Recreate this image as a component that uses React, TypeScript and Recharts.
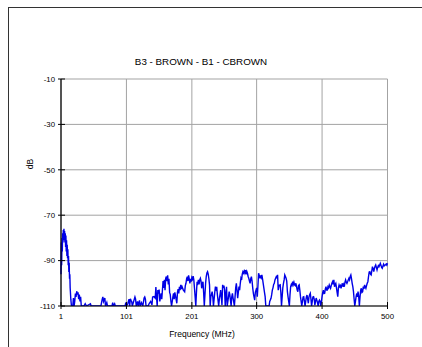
import React from 'react';
import { LineChart, Line, XAxis, YAxis, CartesianGrid } from 'recharts';

// ── Data ────────────────────────────────────────────────────────────────────

const TITLE = 'B3 - BROWN - B1 - CBROWN';
const X_TICKS = [1, 101, 201, 300, 400, 500];
const Y_TICKS = [-110, -90, -70, -50, -30, -10];

// 1 – 16 MHz: the low-frequency peak (fast ripple, half-MHz steps)
const FREQ_PEAK = [
  1, 1.5, 2, 2.5, 3, 3.5, 4, 4.5, 5, 5.5,
  6, 6.5, 7, 7.5, 8, 8.5, 9, 9.5, 10, 10.5,
  11, 11.5, 12, 12.5, 13, 13.5, 14, 14.5, 15, 16,
];
const LEVEL_PEAK = [
  -96, -82, -92, -80, -86, -78, -82, -76.5, -80, -76,
  -81, -77, -82, -78, -84, -79, -86, -81, -88, -83,
  -89, -85, -92, -88, -95, -91, -98, -96, -102, -107,
];

// 17 – 99 MHz: the quiet band after the peak
const FREQ_A = [
  17, 19, 20, 21, 22, 23, 24, 25, 26, 27,
  28, 29, 30, 31, 32, 36, 38, 40, 46, 47,
  62, 64, 65, 66, 68, 69, 71, 72, 79, 80,
  81, 83, 84, 99,
];
const LEVEL_A = [
  -110, -110, -106.5, -110, -108, -104.5, -106, -103.5, -105, -104,
  -107, -105, -108, -106, -110, -110, -109, -110, -109, -110,
  -110, -107, -106, -108, -106.5, -110, -108.5, -110, -110, -108.5,
  -110, -109, -110, -110,
];

// 100 – 200 MHz
const FREQ_B = [
  100, 101, 103, 105, 106, 107, 108, 109, 110, 112,
  114, 115, 116, 118, 119, 121, 122, 124, 126, 128,
  129, 130, 131, 134, 136, 138, 140, 141, 143, 145,
  146, 147, 148, 149, 150, 151, 152, 154, 155, 157,
  158, 159, 160, 161, 162, 163, 164, 165, 166, 167,
  168, 169, 170, 172, 173, 174, 175, 176, 178, 179,
  180, 181, 182, 183, 184, 185, 186, 188, 190, 191,
  192, 193, 194, 195, 196, 197, 198, 199, 200,
];
const LEVEL_B = [
  -108.5, -110, -109, -107, -110, -106.8, -107.5, -108, -110, -108,
  -106, -107, -110, -108, -110, -107.5, -110, -108.5, -110, -106.5,
  -106, -107, -110, -110, -108.8, -108, -109.5, -106, -105.8, -106.5,
  -101.6, -106, -110, -103, -104.5, -102.8, -108, -104.4, -107, -99,
  -102, -98.5, -103, -97.8, -97, -99, -96.5, -100.5, -98, -104,
  -105, -108, -110, -106, -104.4, -107, -104, -105.5, -108.8, -104,
  -102.6, -104.5, -101.5, -103, -100.7, -102.5, -101.5, -103, -103.7, -101,
  -100, -98, -97.1, -99, -96.5, -98, -100, -98, -99.3,
];

// 201 – 300 MHz
const FREQ_C = [
  201, 202, 203, 204, 205, 206, 207, 208, 209, 210,
  211, 212, 213, 214, 215, 216, 217, 218, 219, 220,
  221, 222, 223, 224, 225, 226, 227, 228, 229, 230,
  232, 233, 234, 236, 237, 238, 239, 240, 242, 243,
  245, 246, 247, 248, 249, 250, 251, 252, 253, 254,
  255, 257, 258, 259, 261, 262, 263, 264, 266, 267,
  268, 269, 270, 271, 272, 273, 274, 275, 276, 277,
  278, 279, 280, 281, 282, 283, 284, 285, 286, 287,
  288, 289, 290, 291, 292, 293, 294, 295, 296, 297,
  298, 299, 300,
];
const LEVEL_C = [
  -97.5, -98.2, -96.8, -98.5, -102.2, -106, -110, -104, -99.3, -100,
  -98.5, -100.5, -98.5, -97.8, -99, -102.2, -100, -99.3, -104, -110,
  -105, -100, -97, -95.5, -94.9, -96, -98, -100.7, -110, -106,
  -103.7, -106, -110, -104, -101.5, -102.5, -101.5, -105, -110, -107,
  -103, -106, -109.6, -100.7, -102, -101, -103, -110, -105, -101.5,
  -110, -106, -103.7, -105, -110, -106, -104.4, -106.5, -110, -106,
  -102, -100, -103, -106.6, -104, -101.5, -103, -100, -97.8, -98.5,
  -96, -94.9, -95.5, -94.6, -95.5, -94.2, -96, -94.8, -95.6, -97,
  -97.8, -99, -100, -98, -97.1, -99, -102, -104.4, -106, -107.4,
  -104, -103, -102,
];

// 301 – 400 MHz
const FREQ_D = [
  301, 302, 303, 304, 305, 306, 307, 308, 309, 310,
  311, 312, 313, 314, 319, 320, 322, 323, 324, 325,
  326, 327, 328, 330, 331, 332, 333, 334, 336, 337,
  338, 339, 340, 341, 342, 343, 344, 345, 346, 347,
  348, 349, 350, 351, 352, 353, 354, 355, 356, 357,
  358, 359, 360, 361, 362, 363, 364, 365, 366, 367,
  368, 369, 370, 371, 372, 373, 374, 375, 376, 377,
  378, 379, 380, 381, 382, 383, 384, 385, 386, 387,
  388, 389, 390, 391, 392, 393, 394, 395, 396, 397,
  398, 399, 400,
];
const LEVEL_D = [
  -105.9, -101, -95.6, -96.5, -97.8, -96.5, -97.5, -96.3, -98, -100,
  -102, -104, -105.9, -110, -110, -108, -106.6, -105, -103, -102,
  -100.5, -100, -98.5, -97.1, -97.5, -96.3, -103, -101, -100.7, -104,
  -110, -106, -102, -100, -98.5, -96.3, -97, -97.8, -99, -103.7,
  -106, -108, -110, -105, -101.5, -100.5, -101, -99.3, -100.5, -99.5,
  -100.7, -101, -100, -101.5, -103, -103.7, -101, -100.7, -103, -105.9,
  -108, -110, -108, -106, -105.9, -108, -110, -108, -106, -105.2,
  -107, -108.8, -106, -105, -104.4, -107, -110, -108, -106, -105.9,
  -107, -109.6, -108, -106.5, -107.4, -108.5, -110, -108, -107.4, -108,
  -110, -108, -105.9,
];

// 401 – 500 MHz
const FREQ_E = [
  401, 402, 403, 404, 405, 406, 407, 408, 409, 410,
  411, 412, 413, 414, 415, 416, 417, 418, 419, 420,
  421, 422, 423, 424, 425, 426, 427, 428, 429, 430,
  431, 432, 433, 434, 435, 436, 437, 438, 439, 440,
  441, 442, 443, 444, 445, 446, 447, 448, 449, 450,
  451, 452, 453, 454, 455, 456, 457, 458, 459, 460,
  461, 462, 463, 464, 465, 466, 467, 468, 469, 470,
  471, 472, 473, 474, 475, 476, 477, 478, 479, 480,
  481, 482, 483, 484, 485, 486, 487, 488, 489, 490,
  491, 492, 493, 494, 495, 496, 497, 498, 499, 500,
];
const LEVEL_E = [
  -104, -103, -104.5, -104.4, -102.5, -101.5, -103, -103, -101.5, -102,
  -100.7, -101.5, -102.2, -101, -100, -99.3, -100.5, -98.5, -101.5, -100.5,
  -100, -102, -104, -105.9, -102, -100.7, -101.5, -101, -102.2, -101,
  -100, -101.5, -100.5, -101.5, -99.5, -98.5, -99.5, -100, -99.3, -98.5,
  -97.8, -98.5, -97, -96.3, -98, -100, -101.5, -103.7, -107, -110,
  -108, -105.9, -104.5, -106, -103.7, -106, -110, -106, -103, -102.2,
  -104, -103.7, -101.5, -102.5, -100.7, -101.5, -102.2, -101, -100, -99.3,
  -97, -95, -94.9, -96, -96.3, -94.5, -92.7, -93.5, -94.9, -93.5,
  -92.5, -91.9, -93, -94.1, -93, -92.2, -92.7, -92, -91.2, -92,
  -93, -93.4, -92.5, -91.6, -92.3, -92, -91.9, -91.5, -92, -91.2,
];

const FREQ = [...FREQ_PEAK, ...FREQ_A, ...FREQ_B, ...FREQ_C, ...FREQ_D, ...FREQ_E];
const LEVEL = [...LEVEL_PEAK, ...LEVEL_A, ...LEVEL_B, ...LEVEL_C, ...LEVEL_D, ...LEVEL_E];

// ── Styling ──────────────────────────────────────────────────────────────────

const FONT = '"Liberation Sans", Arial, sans-serif';
const TICK_FS = 7.8;
const GRID = '#a3a3a3';
const TRACE = '#0000e6';

// ── Ticks (black mark crossing the axis, label outside) ─────────────────────

function YTick({ x, y, payload }: any) {
  return (
    <g>
      <line x1={x + 3} x2={x + 10} y1={y} y2={y} stroke="#000" strokeWidth={1} />
      <text x={x} y={y} dy="0.35em" textAnchor="end" fontSize={TICK_FS} fontFamily={FONT} fill="#000">
        {payload.value}
      </text>
    </g>
  );
}

function XTick({ x, y, payload }: any) {
  return (
    <g>
      <line x1={x} x2={x} y1={y - 11} y2={y - 4} stroke="#000" strokeWidth={1} />
      <text x={x} y={y} dy="0.71em" textAnchor="middle" fontSize={TICK_FS} fontFamily={FONT} fill="#000">
        {payload.value}
      </text>
    </g>
  );
}

export default function App() {
  const rows = FREQ.map((f, i) => ({ f, db: LEVEL[i] }));

  return (
    <div style={{ position: 'fixed', left: 0, top: 0, width: 422, height: 347, overflow: 'hidden', background: '#fff' }}>
      {/* outer frame: only the top and left edges fall inside the picture */}
      <div
        style={{
          position: 'absolute',
          left: 8,
          top: 7,
          width: 600,
          height: 600,
          borderTop: '1px solid #333',
          borderLeft: '1px solid #333',
        }}
      />
      <div style={{ position: 'absolute', left: 0, top: 0 }}>
        <LineChart width={422} height={347} data={rows} margin={{ top: 79, right: 34.5, left: 21, bottom: 11 }}>
          <CartesianGrid stroke={GRID} strokeWidth={1} />
          <XAxis
            type="number"
            dataKey="f"
            domain={[1, 500]}
            ticks={X_TICKS}
            interval={0}
            height={30}
            tickSize={0}
            tickMargin={7}
            axisLine={{ stroke: '#000', strokeWidth: 1.2 }}
            tickLine={false}
            tick={XTick}
          />
          <YAxis
            type="number"
            domain={[-110, -10]}
            ticks={Y_TICKS}
            interval={0}
            width={40}
            tickSize={0}
            tickMargin={6}
            axisLine={{ stroke: '#000', strokeWidth: 1.2 }}
            tickLine={false}
            tick={YTick}
            allowDataOverflow
          />
          <Line
            type="linear"
            dataKey="db"
            stroke={TRACE}
            strokeWidth={1.4}
            dot={false}
            isAnimationActive={false}
          />
        </LineChart>
      </div>
      <svg width={422} height={347} style={{ position: 'absolute', left: 0, top: 0, pointerEvents: 'none' }}>
        <text x={201} y={62} dy="0.35em" textAnchor="middle" fontSize={9.8} fontFamily={FONT} fill="#000">
          {TITLE}
        </text>
        <text x={202} y={334} dy="0.35em" textAnchor="middle" fontSize={8.5} fontFamily={FONT} fill="#000">
          Frequency (MHz)
        </text>
        <text
          x={30}
          y={164}
          dy="0.35em"
          textAnchor="middle"
          fontSize={8.5}
          fontFamily={FONT}
          fill="#000"
          transform="rotate(-90 30 164)"
        >
          dB
        </text>
      </svg>
    </div>
  );
}
